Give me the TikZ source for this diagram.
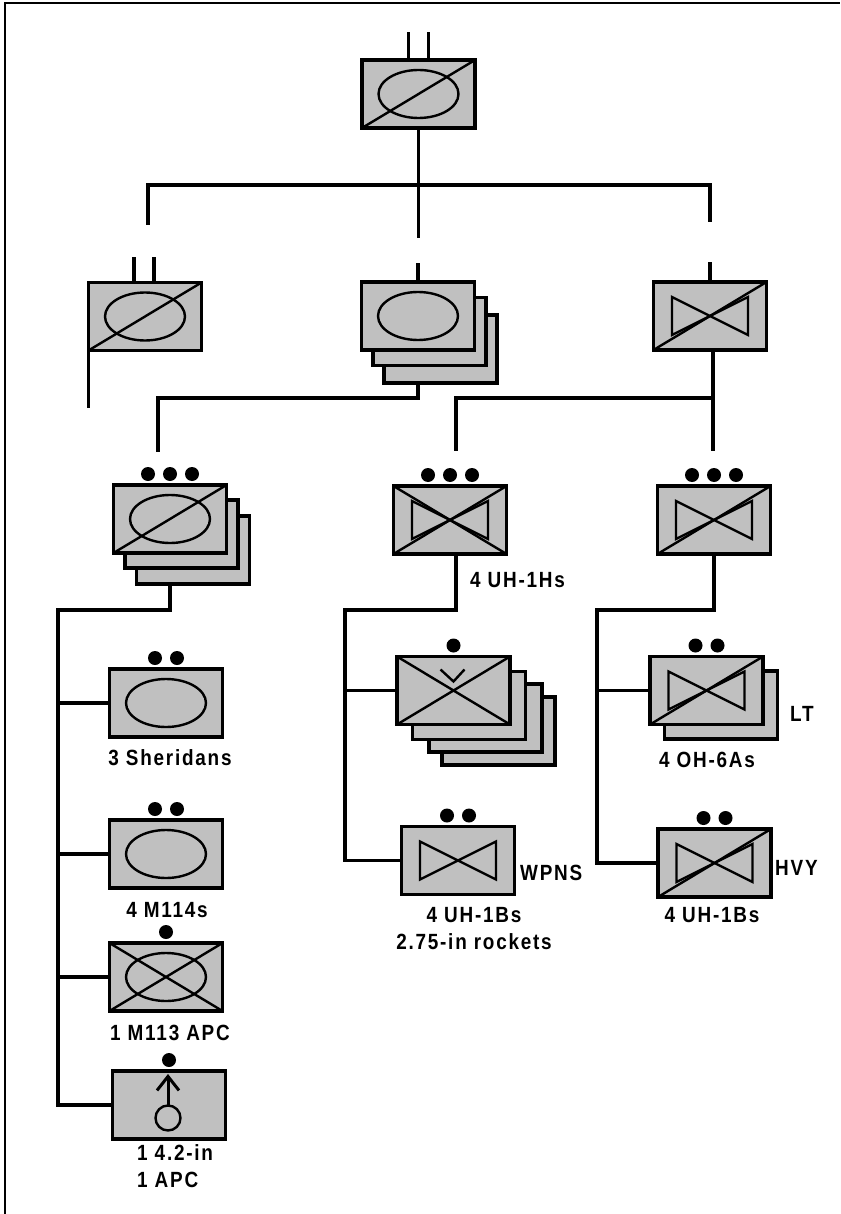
\documentclass[tikz,border=0pt]{standalone}
\usepackage{fontspec}
\setmainfont{Liberation Sans}[FakeStretch=0.86, LetterSpace=8]
\usetikzlibrary{arrows.meta, calc}
\definecolor{unitgray}{HTML}{c0c0c0}
\newcommand{\slashsym}[1]{\draw[sym] (#1.south west) -- (#1.north east);}
\newcommand{\crosssym}[1]{\draw[sym] (#1.south west) -- (#1.north east) (#1.north west) -- (#1.south east);}
\newcommand{\armorsym}[1]{\draw[sym] (#1.center) ellipse [x radius=40pt, y radius=24pt];}
\newcommand{\aviasym}[1]{\draw[sym] (#1.center) ++(-38,-19) -- ++(76,38) -- ++(0,-38) -- ++(-76,38) -- cycle;}
\newcommand{\echelon}[2]{\foreach \k in {1,...,#2} {\fill ($(#1.north)+({(\k-(#2+1)/2)*22},-11)$) circle (7pt);}}

\begin{document}
\begin{tikzpicture}[x=1pt, y=-1pt,
    unit/.style={draw, fill=unitgray, line width=3.5pt, minimum width=113pt, minimum height=68pt, inner sep=0pt, outer sep=0pt},
    sym/.style={line width=2.4pt},
    conn/.style={line width=3.5pt},
    lbl/.style={font=\bfseries\fontsize{22}{27}\selectfont, inner sep=0pt}]
    \useasboundingbox (0,0) rectangle (840,1214);
    \draw[line width=2pt] (5,1214) -- (5,3) -- (840,3);

    % squadron
    \node[unit] (top) at (418.5,94) {};
    \armorsym{top} \slashsym{top}
    \draw[conn] ($(top.north)+(-10,0)$) -- ++(0,-28);
    \draw[conn] ($(top.north)+(10,0)$) -- ++(0,-28);

    \coordinate (barL) at (148,185);
    \coordinate (barR) at (710,185);
    \coordinate (dropL) at (148,225);
    \coordinate (dropM) at (418.5,238);
    \coordinate (dropR) at (710,222);
    \draw[conn] (top.south) -- (dropM);
    \draw[conn] (dropL) -- (barL) -- (barR) -- (dropR);

    % cavalry troop
    \node[unit] (cav) at (145,316.5) {};
    \armorsym{cav} \slashsym{cav}
    \draw[conn] ($(cav.north)+(-11,0)$) -- ++(0,-25);
    \draw[conn] ($(cav.north)+(9,0)$) -- ++(0,-25);
    \draw[conn] (cav.south west) -- ++(0,57);

    % armor
    \node[unit] (arm3) at (440.5,349) {};
    \node[unit] (arm2) at (429.5,331.5) {};
    \node[unit] (arm) at (418,316) {};
    \armorsym{arm}
    \draw[conn] (arm.north) -- ++(0,-19);

    % air cavalry
    \node[unit] (air) at (710,316) {};
    \aviasym{air} \slashsym{air}
    \draw[conn] (air.north) -- ++(0,-20);

    % armored cavalry troops
    \node[unit] (trp3) at (193,550) {};
    \node[unit] (trp2) at (181.5,534) {};
    \node[unit] (trp) at (170,519) {};
    \armorsym{trp} \slashsym{trp}
    \echelon{trp}{3}
    \coordinate (jArm) at (158,398);
    \draw[conn] (arm |- arm3.south) |- (jArm) -- (158,452);

    % air troop HQ and troops
    \node[unit] (hqa) at (450,520) {};
    \aviasym{hqa} \crosssym{hqa}
    \echelon{hqa}{3}
    \node[unit] (tra) at (714,520) {};
    \aviasym{tra} \slashsym{tra}
    \echelon{tra}{3}
    \coordinate (jAir) at (456,398);
    \draw[conn] (713,350) -- (713,451);
    \draw[conn] (713,398) -- (jAir) -- (456,451);

    % left column
    \node[unit] (shrd) at (166,703) {};
    \armorsym{shrd}
    \echelon{shrd}{2}
    \node[unit] (m114) at (166,854) {};
    \armorsym{m114}
    \echelon{m114}{2}
    \node[unit] (m113) at (166,977) {};
    \armorsym{m113} \crosssym{m113}
    \echelon{m113}{1}
    \node[unit] (mort) at (169,1105) {};
    \echelon{mort}{1}
    \draw[sym] ($(mort.center)+(-1,13)$) circle (12.5pt);
    \draw[sym, line width=3pt, -{Straight Barb[length=14pt, width=22pt]}] ($(mort.center)+(-1,0.5)$) -- ($(mort.center)+(-1,-31)$);

    \coordinate (jL) at (58,610);
    \draw[conn] (trp |- trp3.south) |- (jL) -- (jL |- mort.west) -- (mort.west);
    \draw[conn] (jL |- shrd.west) -- (shrd.west);
    \draw[conn] (jL |- m114.west) -- (m114.west);
    \draw[conn] (jL |- m113.west) -- (m113.west);

    \node[lbl] (lshrd) at (170,758) {3 Sheridans};
    \node[lbl] (lm114) at (167,910) {4 M114s};
    \node[lbl] (lm113) at (170,1033) {1 M113 APC};
    \node[lbl, anchor=north west, align=left] (lmort) at (137,1144) {1 4.2-in\\1 APC};

    % middle column
    \node[unit] (mid4) at (498.5,731) {};
    \node[unit] (mid3) at (485.5,718) {};
    \node[unit] (mid2) at (469,705.5) {};
    \node[unit] (mid) at (453.5,690.5) {};
    \crosssym{mid}
    \draw[sym] ($(mid.center)+(-13,-21)$) -- ++(13,12) -- ++(11,-12);
    \echelon{mid}{1}
    \node[unit] (wpns) at (458,860.5) {};
    \aviasym{wpns}
    \echelon{wpns}{2}

    \coordinate (jM) at (345,610);
    \draw[conn] (456,554) |- (jM) -- (jM |- wpns.west) -- (wpns.west);
    \draw[conn] (jM |- mid.west) -- (mid.west);

    \node[lbl, anchor=west] (lhqa) at (470,580) {4 UH-1Hs};
    \node[lbl, anchor=west] (lwpns) at (520,873) {WPNS};
    \node[lbl, align=center] (lwpnsb) at (474,929) {4 UH-1Bs\\2.75-in rockets};

    % right column
    \node[unit] (lt2) at (721,705) {};
    \node[unit] (lt) at (706.5,690.5) {};
    \aviasym{lt} \slashsym{lt}
    \echelon{lt}{2}
    \node[unit] (hvy) at (714.5,863) {};
    \aviasym{hvy} \slashsym{hvy}
    \echelon{hvy}{2}

    \coordinate (jR) at (597,610);
    \draw[conn] (tra.south) |- (jR) -- (jR |- hvy.west) -- (hvy.west);
    \draw[conn] (jR |- lt.west) -- (lt.west);

    \node[lbl, anchor=west] (llt) at (790,714) {LT};
    \node[lbl] (lltb) at (707,760) {4 OH-6As};
    \node[lbl, anchor=west] (lhvy) at (775,868) {HVY};
    \node[lbl] (lhvyb) at (712,915) {4 UH-1Bs};
\end{tikzpicture}
\end{document}
